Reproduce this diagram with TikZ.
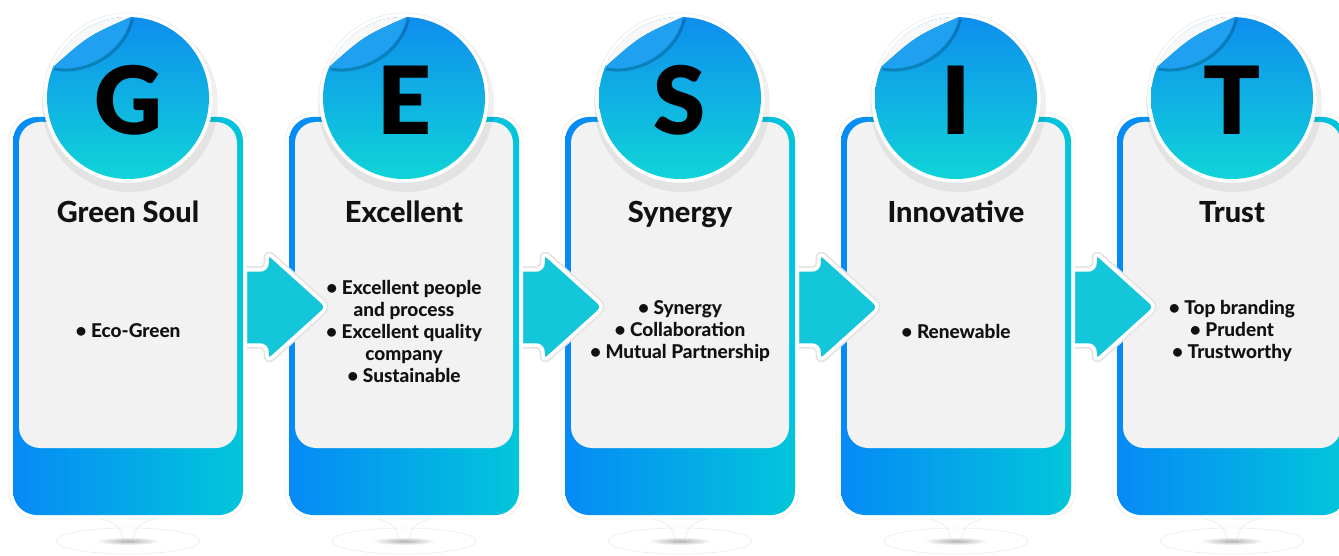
\documentclass[tikz,border=0pt]{standalone}
\usepackage{fontspec}
\setmainfont{Lato}
\newfontfamily\heavyfont{Lato Black}
\newfontfamily\labelfont{Lato Heavy}
\usetikzlibrary{calc}

\definecolor{cardblue}{RGB}{6,138,246}
\definecolor{cardcyan}{RGB}{2,198,218}
\definecolor{badgetop}{RGB}{14,142,238}
\definecolor{badgebot}{RGB}{16,212,216}
\definecolor{flapblue}{RGB}{32,160,240}
\definecolor{arrowcyan}{RGB}{20,198,218}
\definecolor{panelgray}{RGB}{242,242,242}
\definecolor{rimgray}{RGB}{228,228,228}
\definecolor{peelwhite}{RGB}{248,248,248}
\definecolor{inkblack}{RGB}{17,17,17}

\tikzset{
  cardrim/.style={rectangle, rounded corners=28pt, minimum width=238pt, minimum height=406pt, fill=white, draw=rimgray, inner sep=0pt},
  card/.style={rectangle, rounded corners=24pt, minimum width=230pt, minimum height=398pt, left color=cardblue, right color=cardcyan, inner sep=0pt},
  panel/.style={rectangle, rounded corners=21pt, minimum width=218pt, minimum height=326pt, fill=panelgray, inner sep=0pt},
  badgerim/.style={circle, minimum size=170pt, fill=white, draw=rimgray, inner sep=0pt},
  badge/.style={circle, minimum size=162pt, top color=badgetop, bottom color=badgebot, inner sep=0pt},
  peel/.style={fill=peelwhite},
  flap/.style={fill=flapblue},
  letter/.style={font=\heavyfont\fontsize{94}{94}\selectfont, text=black, inner sep=0pt, yshift=-2pt},
  title/.style={font=\labelfont\fontsize{29}{34}\selectfont, text=inkblack, inner sep=0pt},
  bullets/.style={font=\labelfont\fontsize{19}{22}\selectfont, text=inkblack, align=center, inner sep=0pt},
  arrowbody/.style={fill=arrowcyan, draw=white, line width=3.5pt, rounded corners=7pt,
    preaction={draw=rimgray, line width=7pt}}
}

\begin{document}
\begin{tikzpicture}[x=1pt, y=-1pt]
  \clip (0,0) rectangle (1339,556);
  \fill[white] (0,0) rectangle (1339,556);

  % cards from right to left, so each arrow sits under the card it leaves
  \foreach \i/\ltr in {4/T,3/I,2/S,1/E,0/G} {
    \pgfmathsetmacro\cx{128+276*\i}
    % footing under the card
    \draw[rimgray, fill=white] (\cx,541) ellipse[x radius=72, y radius=13];
    \shade[inner color=gray!60, outer color=white] (\cx,541) ellipse[x radius=32, y radius=4];
    \draw[rimgray] (\cx-40,517) .. controls (\cx-14,519) and (\cx-7,527) .. (\cx-5,539);
    \draw[rimgray] (\cx+40,517) .. controls (\cx+14,519) and (\cx+7,527) .. (\cx+5,539);

    % card body
    \node[cardrim] (rim\i) at (\cx,316) {};
    \node[card] (card\i) at (\cx,316) {};
    \node[panel] (panel\i) at (\cx,285) {};

    % round badge with its peeled corner
    \fill[black, opacity=.06] (\cx+2,104) circle (88);
    \node[badgerim] (badgerim\i) at (\cx,98) {};
    \node[badge] (badge\i) at (\cx,98) {};
    \begin{scope}[shift={(badge\i.center)}]
      \fill[peel] (-75,-31) arc[start angle=202.5, end angle=272, radius=81]
        .. controls (-40,-62) .. (-75,-31);
      \draw[black, opacity=.2, line width=3pt, shift={(1.5,2)}]
        (2.8,-81) .. controls (-5,-45) and (-45,-25) .. (-75,-31);
      \fill[flap] (-75,-31) .. controls (-40,-62) .. (2.8,-81)
        .. controls (-5,-45) and (-45,-25) .. (-75,-31);
    \end{scope}
    \node[letter] (letter\i) at (badge\i.center) {\ltr};

    % arrow coming in from the card on the left
    \ifnum\i>0
      \begin{scope}[shift={(\cx-161,316)}]
        \path[arrowbody] (-12,-46) -- (24,-46) -- (24,-64) -- (85,-9)
          -- (24,46) -- (24,29) -- (-12,29) -- cycle;
      \end{scope}
    \fi
  }

  % titles and bullet lists
  \foreach \i/\ttl/\lst in {
      0/Green Soul/{• Eco-Green},
      1/Excellent/{• Excellent people\\ and process\\ • Excellent quality\\ company\\ • Sustainable},
      2/Synergy/{• Synergy\\ • Collaboration\\ • Mutual Partnership},
      3/Innovative/{• Renewable},
      4/Trust/{• Top branding\\ • Prudent\\ • Trustworthy}} {
    \pgfmathsetmacro\cx{128+276*\i}
    \node[title, anchor=base] (title\i) at (\cx,223) {\ttl};
    \node[bullets] (list\i) at (\cx,331) {\lst};
  }
\end{tikzpicture}
\end{document}
